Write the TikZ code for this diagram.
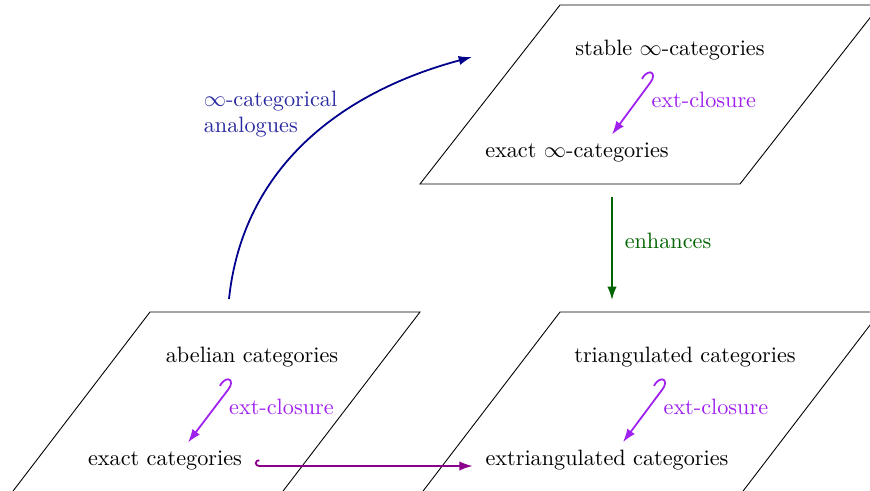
\documentclass[tikz,border=0pt]{standalone}
\usetikzlibrary{arrows.meta,calc}
\definecolor{navyarr}{RGB}{0,0,140}
\definecolor{navytxt}{RGB}{40,40,160}
\definecolor{enhgreen}{RGB}{0,100,0}
\definecolor{extviolet}{RGB}{160,32,240}
\definecolor{incpurple}{RGB}{139,0,139}
\tikzset{plane/.style={draw=black,line width=0.4pt},cat/.style={inner sep=2pt},extarrow/.style={extviolet,line width=0.8pt,{Hooks[left,width=9pt,length=4pt,arc=200]}-{Latex[length=6pt,width=4.2pt]}},line/.style={line width=0.8pt,-{Latex[length=6pt,width=4.2pt]}}}

\begin{document}
\begin{tikzpicture}[x=0.45pt,y=0.45pt]
\useasboundingbox (0,0) rectangle (870,-491);
\clip (0,0) rectangle (870,-491);
% planes
\draw[plane] (560,-5) -- (880,-5) -- (740,-184) -- (420,-184) -- cycle;
\draw[plane] (150,-312) -- (420,-312) -- (280,-495) -- (10,-495) -- cycle;
\draw[plane] (560,-312) -- (880,-312) -- (740,-495) -- (420,-495) -- cycle;
% categories
\node[cat] (stable) at (670,-50) {stable $\infty$-categories};
\node[cat] (exinf) at (577,-152) {exact $\infty$-categories};
\node[cat] (abel) at (252,-357) {abelian categories};
\node[cat] (exact) at (165,-460) {exact categories};
\node[cat] (tri) at (685,-357) {triangulated categories};
\node[cat] (extri) at (607,-460) {extriangulated categories};
\coordinate (enhtop) at (612,-197);
\coordinate (enhbot) at (612,-300);
\coordinate (curvestart) at (229,-299);
\coordinate (curveend) at (472,-57);
% ext-closures
\draw[extarrow] ($(stable.south)+(-14,-10)$) -- node[right=2.6pt,pos=0.42]{ext-closure} ($(exinf.north)+(35,3)$);
\draw[extarrow] ($(abel.south)+(-18,-10)$) -- node[right=2.8pt,pos=0.42]{ext-closure} ($(exact.north)+(23,3)$);
\draw[extarrow] ($(tri.south)+(-17,-10)$) -- node[right=2.8pt,pos=0.42]{ext-closure} ($(extri.north)+(16,3)$);
% other connectors
\draw[line,enhgreen] (enhtop) -- node[right=2pt,pos=0.43]{enhances} (enhbot);
\draw[line,navyarr] (curvestart) to[out=84,in=195] (curveend);
\node[navytxt,align=left,anchor=west] (analog) at (196,-114) {$\infty$-categorical\\analogues};
\draw[incpurple,line width=0.8pt,{Hooks[right,width=6pt,length=2pt]}-{Latex[length=6pt,width=4.2pt]}] ($(exact.east)+(8,-6)$) -- ($(extri.west)+(-8,-6)$);
\end{tikzpicture}
\end{document}
